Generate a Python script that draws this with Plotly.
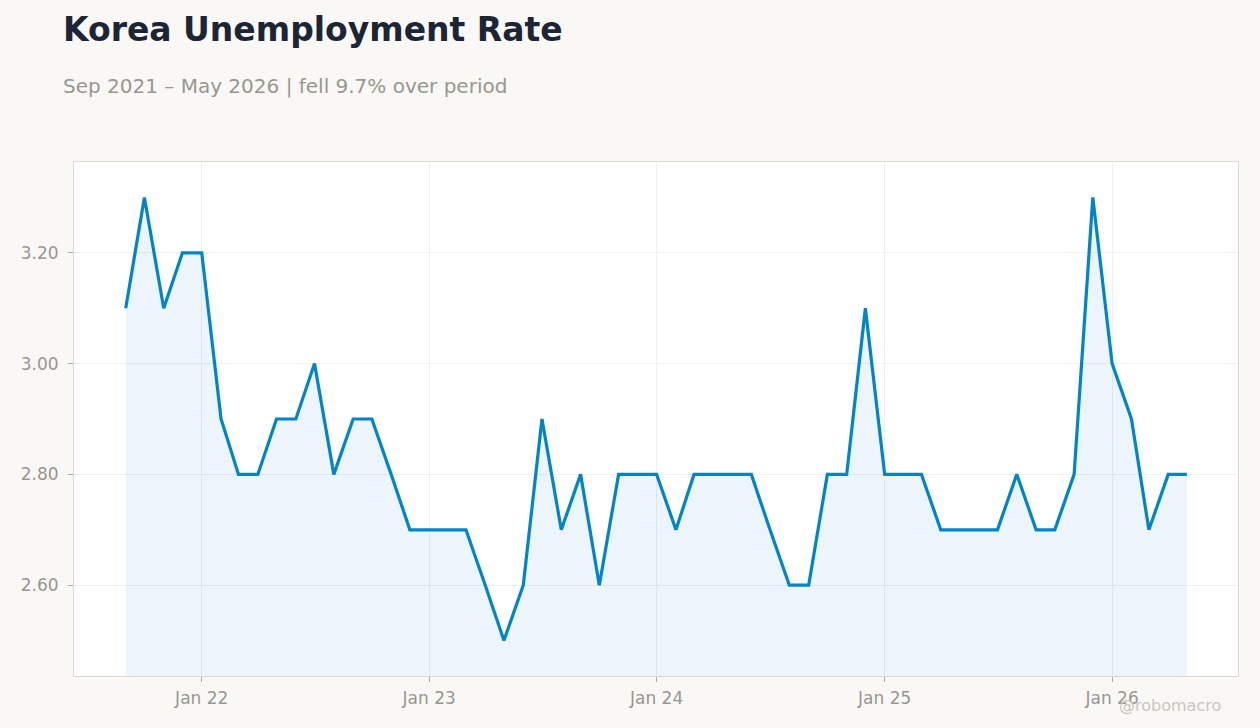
import plotly.graph_objects as go

# monthly unemployment rate, Sep 2021 - May 2026 (%)
months = [
    "2021-09-01", "2021-10-01", "2021-11-01", "2021-12-01",
    "2022-01-01", "2022-02-01", "2022-03-01", "2022-04-01", "2022-05-01", "2022-06-01",
    "2022-07-01", "2022-08-01", "2022-09-01", "2022-10-01", "2022-11-01", "2022-12-01",
    "2023-01-01", "2023-02-01", "2023-03-01", "2023-04-01", "2023-05-01", "2023-06-01",
    "2023-07-01", "2023-08-01", "2023-09-01", "2023-10-01", "2023-11-01", "2023-12-01",
    "2024-01-01", "2024-02-01", "2024-03-01", "2024-04-01", "2024-05-01", "2024-06-01",
    "2024-07-01", "2024-08-01", "2024-09-01", "2024-10-01", "2024-11-01", "2024-12-01",
    "2025-01-01", "2025-02-01", "2025-03-01", "2025-04-01", "2025-05-01", "2025-06-01",
    "2025-07-01", "2025-08-01", "2025-09-01", "2025-10-01", "2025-11-01", "2025-12-01",
    "2026-01-01", "2026-02-01", "2026-03-01", "2026-04-01", "2026-05-01",
]
rates = [
    3.1, 3.3, 3.1, 3.2,
    3.2, 2.9, 2.8, 2.8, 2.9, 2.9,
    3.0, 2.8, 2.9, 2.9, 2.8, 2.7,
    2.7, 2.7, 2.7, 2.6, 2.5, 2.6,
    2.9, 2.7, 2.8, 2.6, 2.8, 2.8,
    2.8, 2.7, 2.8, 2.8, 2.8, 2.8,
    2.7, 2.6, 2.6, 2.8, 2.8, 3.1,
    2.8, 2.8, 2.8, 2.7, 2.7, 2.7,
    2.7, 2.8, 2.7, 2.7, 2.8, 3.3,
    3.0, 2.9, 2.7, 2.8, 2.8,
]

title = "Korea Unemployment Rate"
change = (rates[-1] - rates[0]) / rates[0] * 100
subtitle = f"Sep 2021 – May 2026 | {'fell' if change < 0 else 'rose'} {abs(change):.1f}% over period"

span = max(rates) - min(rates)
pad = span * 0.08

# plot area in pixels (for placing the header texts)
W, H = 1260, 728
ml, mr, mt, mb = 74, 22, 162, 52
pw, ph = W - ml - mr, H - mt - mb

fig = go.Figure()
fig.add_trace(go.Scatter(
    x=months, y=rates, mode="lines",
    line=dict(color="#0284C7", width=3.2),
    fill="tozeroy", fillcolor="rgba(2,132,199,0.08)",
    hoverinfo="x+y",
))

fig.update_layout(
    width=W, height=H,
    paper_bgcolor="#F9F8F5", plot_bgcolor="#FFFFFF",
    margin=dict(l=ml, r=mr, t=mt, b=mb),
    font=dict(family="DejaVu Sans", color="#9A9590", size=17),
    showlegend=False,
    annotations=[
        dict(text=f"<b>{title}</b>", xref="paper", yref="paper",
             x=(61 - ml) / pw, y=1 + (mt - 29) / ph, xanchor="left", yanchor="middle",
             showarrow=False, font=dict(size=33, color="#1C2536")),
        dict(text=subtitle, xref="paper", yref="paper",
             x=(61 - ml) / pw, y=1 + (mt - 86) / ph, xanchor="left", yanchor="middle",
             showarrow=False, font=dict(size=20, color="#9A9590")),
        dict(text="@robomacro", xref="paper", yref="paper",
             x=(1223 - ml) / pw, y=-(705 - (H - mb)) / ph, xanchor="right", yanchor="middle",
             showarrow=False, font=dict(size=16, color="#CAC7C2")),
    ],
)

fig.update_xaxes(
    range=["2021-06-10", "2026-07-22"],
    tickformat="%b %y", dtick="M12", tick0="2022-01-01",
    showgrid=True, gridcolor="#EFEFEF",
    showline=True, linecolor="#DDD8D0", mirror=True,
    ticks="outside", ticklen=5, tickcolor="#AAAAAA",
    ticklabelstandoff=2,
    zeroline=False,
)
fig.update_yaxes(
    range=[min(rates) - pad, max(rates) + pad],
    tickformat=".2f", dtick=0.2, tick0=2.6,
    showgrid=True, gridcolor="#EFEFEF",
    showline=True, linecolor="#DDD8D0", mirror=True,
    ticks="outside", ticklen=5, tickcolor="#AAAAAA",
    ticklabelstandoff=6,
    zeroline=False,
)

# drop the page margin so the figure fills the window
fig.write_html("out.html", config={"displayModeBar": False},
               post_script="document.body.style.margin='0';")
